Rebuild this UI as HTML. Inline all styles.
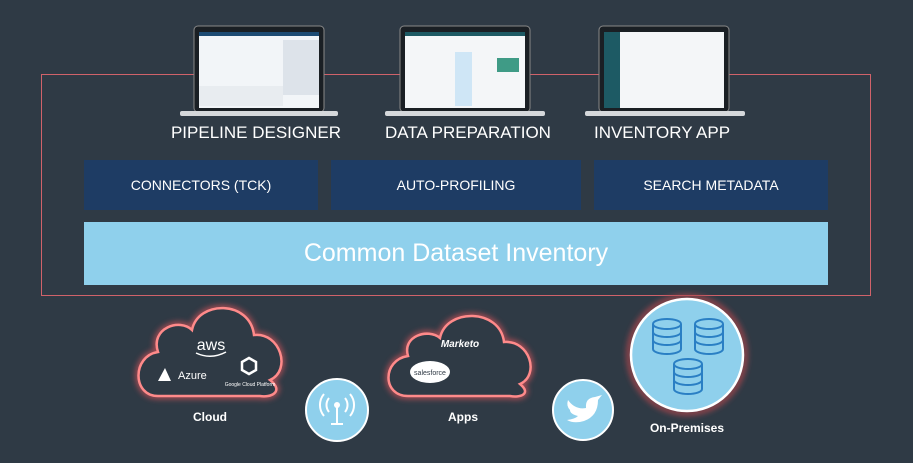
<!DOCTYPE html>
<html><head><style>
body{margin:0;width:913px;height:463px;background:#2f3a45;overflow:hidden;font-family:"Liberation Sans",sans-serif;position:relative}
.a{position:absolute}
.t{color:#fff;text-align:center}
.db{background:#1e3c64;color:#fff;font-size:14px;display:flex;align-items:center;justify-content:center}
</style></head><body>
<div class="a" style="left:41px;top:74px;width:828px;height:220px;border:1.5px solid #d0626a"></div>
<svg class="a" style="left:0;top:0" width="913" height="463">
<defs><filter id="g" x="-20%" y="-20%" width="140%" height="140%"><feGaussianBlur stdDeviation="3"/></filter></defs>
<g>
<rect x="194" y="26" width="130" height="86" rx="4" fill="#1a1f24" stroke="#888"/>
<rect x="199" y="32" width="120" height="76" fill="#f2f5f8"/>
<rect x="199" y="32" width="120" height="4" fill="#1d4b73"/>
<rect x="283" y="40" width="36" height="55" fill="#dde3ea"/>
<rect x="199" y="86" width="84" height="20" fill="#e8ecf0"/>
<rect x="180" y="111" width="158" height="5" rx="2" fill="#d5d8db"/>
</g>
<g>
<rect x="400" y="26" width="130" height="86" rx="4" fill="#1a1f24" stroke="#888"/>
<rect x="405" y="32" width="120" height="76" fill="#f4f6f8"/>
<rect x="405" y="32" width="120" height="4" fill="#1d5a64"/>
<rect x="455" y="52" width="17" height="54" fill="#cfe6f6"/>
<rect x="497" y="58" width="22" height="14" fill="#3f9b86"/>
<rect x="385" y="111" width="160" height="5" rx="2" fill="#d5d8db"/>
</g>
<g>
<rect x="599" y="26" width="130" height="86" rx="4" fill="#1a1f24" stroke="#888"/>
<rect x="604" y="32" width="120" height="76" fill="#f4f6f8"/>
<rect x="604" y="32" width="16" height="76" fill="#1d5a64"/>
<rect x="585" y="111" width="160" height="5" rx="2" fill="#d5d8db"/>
</g>
<path d="M158,396 C132,396 132,356 158,352 C150,328 180,318 192,330 C198,300 250,300 254,335 C280,332 292,370 270,380 C285,392 270,398 260,396 Z" fill="none" stroke="#e0545c" stroke-width="6" filter="url(#g)" opacity=".7"/>
<path d="M158,396 C132,396 132,356 158,352 C150,328 180,318 192,330 C198,300 250,300 254,335 C280,332 292,370 270,380 C285,392 270,398 260,396 Z" fill="#2f3a45" stroke="#ff8a8a" stroke-width="2.5"/>
<path d="M408,396 C382,396 382,360 408,356 C402,336 428,328 440,338 C446,308 500,308 504,342 C530,340 540,375 520,384 C532,394 520,398 510,396 Z" fill="none" stroke="#e0545c" stroke-width="6" filter="url(#g)" opacity=".7"/>
<path d="M408,396 C382,396 382,360 408,356 C402,336 428,328 440,338 C446,308 500,308 504,342 C530,340 540,375 520,384 C532,394 520,398 510,396 Z" fill="#2f3a45" stroke="#ff8a8a" stroke-width="2.5"/>
<text x="211" y="350" fill="#fff" font-size="16" text-anchor="middle" font-family="Liberation Sans">aws</text>
<path d="M196,353 Q211,360 226,352" stroke="#fff" stroke-width="1.5" fill="none"/>
<path d="M158,381 L165,368 L171,381 Z" fill="#fff"/>
<text x="178" y="379" fill="#fff" font-size="11" font-family="Liberation Sans">Azure</text>
<polygon points="242,362 249,358 256,362 256,370 249,374 242,370" fill="none" stroke="#fff" stroke-width="2.5"/>
<text x="250" y="386" fill="#fff" font-size="5" text-anchor="middle">Google Cloud Platform</text>
<text x="460" y="347" fill="#fff" font-size="10" font-style="italic" font-weight="bold" text-anchor="middle">Marketo</text>
<ellipse cx="430" cy="372" rx="20" ry="11" fill="#fff"/>
<text x="430" y="375" fill="#2f3a45" font-size="7" text-anchor="middle">salesforce</text>
<circle cx="337" cy="410" r="31" fill="#8fd0ec" stroke="#fff" stroke-width="2"/>
<circle cx="337" cy="405" r="3" fill="#fff"/>
<line x1="337" y1="405" x2="337" y2="424" stroke="#fff" stroke-width="2"/>
<line x1="331" y1="424" x2="343" y2="424" stroke="#fff" stroke-width="2"/>
<path d="M329,398 A11,11 0 0 0 329,412 M345,398 A11,11 0 0 1 345,412 M324,394 A17,17 0 0 0 324,416 M350,394 A17,17 0 0 1 350,416" stroke="#fff" stroke-width="2" fill="none"/>
<circle cx="583" cy="410" r="30" fill="#8fd0ec" stroke="#fff" stroke-width="2"/>
<path d="M568,400 Q575,410 586,408 Q585,398 595,397 L602,395 L598,400 Q598,416 584,421 Q574,424 567,420 Q575,419 578,416 Q570,414 570,410 Q566,406 568,400 Z" fill="#fff"/>
<circle cx="687" cy="355" r="58" fill="none" stroke="#a0444c" stroke-width="5" filter="url(#g)"/>
<circle cx="687" cy="355" r="56" fill="#8fd0ec" stroke="#fff" stroke-width="2.5"/>
<g fill="none" stroke="#2a7fc4" stroke-width="2">
<g transform="translate(667,334)"><ellipse cx="0" cy="-10" rx="14" ry="5"/><path d="M-14,-10 V15 A14,5 0 0 0 14,15 V-10 M-14,-2 A14,5 0 0 0 14,-2 M-14,6 A14,5 0 0 0 14,6"/></g>
<g transform="translate(709,334)"><ellipse cx="0" cy="-10" rx="14" ry="5"/><path d="M-14,-10 V15 A14,5 0 0 0 14,15 V-10 M-14,-2 A14,5 0 0 0 14,-2 M-14,6 A14,5 0 0 0 14,6"/></g>
<g transform="translate(688,374)"><ellipse cx="0" cy="-10" rx="14" ry="5"/><path d="M-14,-10 V15 A14,5 0 0 0 14,15 V-10 M-14,-2 A14,5 0 0 0 14,-2 M-14,6 A14,5 0 0 0 14,6"/></g>
</g>
</svg>
<div class="a t" style="left:146px;top:123px;width:220px;font-size:17px">PIPELINE DESIGNER</div>
<div class="a t" style="left:358px;top:123px;width:220px;font-size:17px">DATA PREPARATION</div>
<div class="a t" style="left:552px;top:123px;width:220px;font-size:17px">INVENTORY APP</div>
<div class="a db" style="left:84px;top:160px;width:234px;height:50px">CONNECTORS (TCK)</div>
<div class="a db" style="left:331px;top:160px;width:250px;height:50px">AUTO-PROFILING</div>
<div class="a db" style="left:594px;top:160px;width:234px;height:50px">SEARCH METADATA</div>
<div class="a t" style="left:84px;top:222px;width:744px;height:63px;background:#8fd0ec;font-size:25px;line-height:63px">Common Dataset Inventory</div>
<div class="a t" style="left:160px;top:410px;width:100px;font-size:12px;font-weight:bold">Cloud</div>
<div class="a t" style="left:413px;top:410px;width:100px;font-size:12px;font-weight:bold">Apps</div>
<div class="a t" style="left:627px;top:421px;width:120px;font-size:12px;font-weight:bold">On-Premises</div>
</body></html>
